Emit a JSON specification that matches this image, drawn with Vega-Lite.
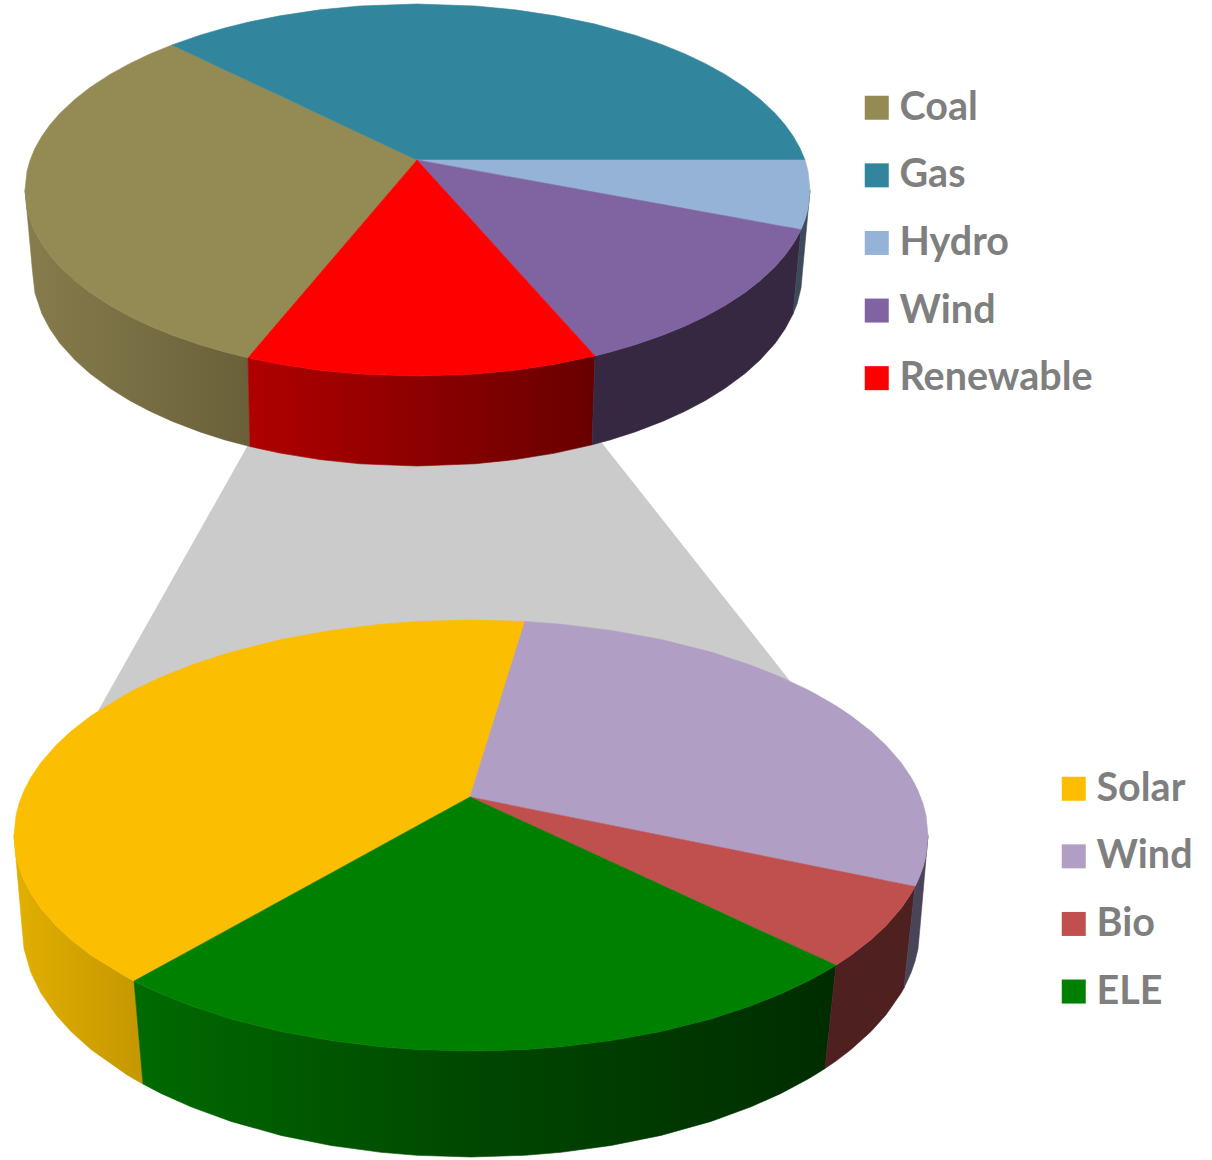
{
  "$schema": "https://vega.github.io/schema/vega-lite/v6.json",
  "width": 1212,
  "height": 1160,
  "padding": 0,
  "autosize": "none",
  "background": "white",
  "config": {"view": {"stroke": null}},
  "datasets": {
    "bridge": [
      {"slice":"Link","x":98,"top":711,"bottom":711},
      {"slice":"Link","x":248,"top":445,"bottom":705},
      {"slice":"Link","x":602,"top":443,"bottom":690},
      {"slice":"Link","x":790,"top":681,"bottom":681}
    ],
    "energyFaces": [
      {"slice":"Coal","x":25,"top":190,"bottom":190},{"slice":"Coal","x":27,"top":171.2,"bottom":208.8},{"slice":"Coal","x":30,"top":160.4,"bottom":219.6},{"slice":"Coal","x":35,"top":148.3,"bottom":231.7},{"slice":"Coal","x":42,"top":135.9,"bottom":244.1},{"slice":"Coal","x":50,"top":124.7,"bottom":255.3},{"slice":"Coal","x":60,"top":113.2,"bottom":266.8},{"slice":"Coal","x":75,"top":99.2,"bottom":280.8},{"slice":"Coal","x":90,"top":87.5,"bottom":292.5},{"slice":"Coal","x":110,"top":74.4,"bottom":305.6},{"slice":"Coal","x":130,"top":63.4,"bottom":316.6},{"slice":"Coal","x":150,"top":53.9,"bottom":326.1},{"slice":"Coal","x":172,"top":44.9,"bottom":335.1},{"slice":"Coal","x":200,"top":58.1,"bottom":344.8},{"slice":"Coal","x":225,"top":69.9,"bottom":352.1},{"slice":"Coal","x":248,"top":80.6,"bottom":357.8},{"slice":"Coal","x":417,"top":160,"bottom":160},
      {"slice":"Gas","x":172,"top":44.9,"bottom":44.9},{"slice":"Gas","x":200,"top":35.2,"bottom":58.1},{"slice":"Gas","x":225,"top":27.9,"bottom":69.9},{"slice":"Gas","x":248,"top":22.2,"bottom":80.6},{"slice":"Gas","x":280,"top":15.8,"bottom":95.6},{"slice":"Gas","x":320,"top":9.8,"bottom":114.4},{"slice":"Gas","x":360,"top":6,"bottom":133.2},{"slice":"Gas","x":417,"top":4,"bottom":160},{"slice":"Gas","x":475,"top":6,"bottom":160},{"slice":"Gas","x":515,"top":9.8,"bottom":160},{"slice":"Gas","x":555,"top":15.8,"bottom":160},{"slice":"Gas","x":595,"top":24.1,"bottom":160},{"slice":"Gas","x":635,"top":35.2,"bottom":160},{"slice":"Gas","x":663,"top":44.9,"bottom":160},{"slice":"Gas","x":685,"top":53.9,"bottom":160},{"slice":"Gas","x":705,"top":63.4,"bottom":160},{"slice":"Gas","x":725,"top":74.4,"bottom":160},{"slice":"Gas","x":745,"top":87.5,"bottom":160},{"slice":"Gas","x":760,"top":99.2,"bottom":160},{"slice":"Gas","x":775,"top":113.2,"bottom":160},{"slice":"Gas","x":785,"top":124.7,"bottom":160},{"slice":"Gas","x":793,"top":135.9,"bottom":160},{"slice":"Gas","x":800,"top":148.3,"bottom":160},{"slice":"Gas","x":805,"top":160,"bottom":160},
      {"slice":"Hydro","x":417,"top":160,"bottom":160},{"slice":"Hydro","x":801,"top":160,"bottom":229.6},{"slice":"Hydro","x":805,"top":160,"bottom":219.6},{"slice":"Hydro","x":808,"top":171.2,"bottom":208.8},{"slice":"Hydro","x":810,"top":190,"bottom":190},
      {"slice":"Wind","x":417,"top":160,"bottom":160},{"slice":"Wind","x":595,"top":192.3,"bottom":355.9},{"slice":"Wind","x":610,"top":195,"bottom":352.1},{"slice":"Wind","x":635,"top":199.5,"bottom":344.8},{"slice":"Wind","x":663,"top":204.6,"bottom":335.1},{"slice":"Wind","x":685,"top":208.6,"bottom":326.1},{"slice":"Wind","x":705,"top":212.2,"bottom":316.6},{"slice":"Wind","x":725,"top":215.8,"bottom":305.6},{"slice":"Wind","x":745,"top":219.4,"bottom":292.5},{"slice":"Wind","x":760,"top":222.2,"bottom":280.8},{"slice":"Wind","x":775,"top":224.9,"bottom":266.8},{"slice":"Wind","x":785,"top":226.7,"bottom":255.3},{"slice":"Wind","x":793,"top":228.1,"bottom":244.1},{"slice":"Wind","x":800,"top":229.4,"bottom":231.7},{"slice":"Wind","x":801,"top":229.6,"bottom":229.6},
      {"slice":"Renewable","x":248,"top":357.8,"bottom":357.8},{"slice":"Renewable","x":280,"top":320.3,"bottom":364.2},{"slice":"Renewable","x":320,"top":273.5,"bottom":370.2},{"slice":"Renewable","x":360,"top":226.7,"bottom":374},{"slice":"Renewable","x":417,"top":160,"bottom":376},{"slice":"Renewable","x":475,"top":223.8,"bottom":374},{"slice":"Renewable","x":515,"top":267.9,"bottom":370.2},{"slice":"Renewable","x":555,"top":311.9,"bottom":364.2},{"slice":"Renewable","x":595,"top":355.9,"bottom":355.9}
    ],
    "energyWalls": [
      {"slice":"Coal","x":25,"top":190,"bottom":190},{"slice":"Coal","x":27,"top":208.8,"bottom":211.6},{"slice":"Coal","x":30,"top":219.6,"bottom":244},{"slice":"Coal","x":32.5,"top":226,"bottom":271},{"slice":"Coal","x":35,"top":231.7,"bottom":293.2},{"slice":"Coal","x":42,"top":244.1,"bottom":314},{"slice":"Coal","x":50,"top":255.3,"bottom":329},{"slice":"Coal","x":60,"top":266.8,"bottom":343.4},{"slice":"Coal","x":75,"top":280.8,"bottom":360},{"slice":"Coal","x":90,"top":292.5,"bottom":373.5},{"slice":"Coal","x":110,"top":305.6,"bottom":388.3},{"slice":"Coal","x":130,"top":316.6,"bottom":400.7},{"slice":"Coal","x":150,"top":326.1,"bottom":411.2},{"slice":"Coal","x":172,"top":335.1,"bottom":421.2},{"slice":"Coal","x":200,"top":344.8,"bottom":431.9},{"slice":"Coal","x":225,"top":352.1,"bottom":439.9},{"slice":"Coal","x":248,"top":357.8,"bottom":446},{"slice":"Coal","x":250,"top":446.5,"bottom":446.5},
      {"slice":"Renewable","x":248,"top":357.8,"bottom":357.8},{"slice":"Renewable","x":250,"top":358.3,"bottom":446.5},{"slice":"Renewable","x":280,"top":364.2,"bottom":453.1},{"slice":"Renewable","x":320,"top":370.2,"bottom":459.6},{"slice":"Renewable","x":360,"top":374,"bottom":463.8},{"slice":"Renewable","x":417,"top":376,"bottom":466},{"slice":"Renewable","x":475,"top":374,"bottom":463.8},{"slice":"Renewable","x":515,"top":370.2,"bottom":459.6},{"slice":"Renewable","x":555,"top":364.2,"bottom":453.1},{"slice":"Renewable","x":592,"top":356.6,"bottom":444.8},{"slice":"Renewable","x":595,"top":355.9,"bottom":355.9},
      {"slice":"Wind","x":592,"top":444.8,"bottom":444.8},{"slice":"Wind","x":595,"top":355.9,"bottom":444},{"slice":"Wind","x":610,"top":352.1,"bottom":439.9},{"slice":"Wind","x":635,"top":344.8,"bottom":431.9},{"slice":"Wind","x":663,"top":335.1,"bottom":421.2},{"slice":"Wind","x":685,"top":326.1,"bottom":411.2},{"slice":"Wind","x":705,"top":316.6,"bottom":400.7},{"slice":"Wind","x":725,"top":305.6,"bottom":388.3},{"slice":"Wind","x":745,"top":292.5,"bottom":373.5},{"slice":"Wind","x":760,"top":280.8,"bottom":360},{"slice":"Wind","x":775,"top":266.8,"bottom":343.4},{"slice":"Wind","x":785,"top":255.3,"bottom":329},{"slice":"Wind","x":793,"top":244.1,"bottom":314},{"slice":"Wind","x":797,"top":237.5,"bottom":271.8},{"slice":"Wind","x":800,"top":231.7,"bottom":240.1},{"slice":"Wind","x":801,"top":229.6,"bottom":229.6},
      {"slice":"Hydro","x":793,"top":314,"bottom":314},{"slice":"Hydro","x":797,"top":271.8,"bottom":304},{"slice":"Hydro","x":801,"top":229.6,"bottom":288},{"slice":"Hydro","x":802.5,"top":226,"bottom":271},{"slice":"Hydro","x":805,"top":219.6,"bottom":244},{"slice":"Hydro","x":808,"top":208.8,"bottom":211.6},{"slice":"Hydro","x":810,"top":190,"bottom":190}
    ],
    "renewableFaces": [
      {"slice":"Solar","x":14,"top":835.5,"bottom":835.5},{"slice":"Solar","x":16,"top":815.4,"bottom":855.6},{"slice":"Solar","x":19,"top":803.7,"bottom":867.3},{"slice":"Solar","x":24,"top":790.7,"bottom":880.3},{"slice":"Solar","x":31,"top":777.3,"bottom":893.7},{"slice":"Solar","x":41,"top":762.5,"bottom":908.5},{"slice":"Solar","x":56,"top":745.3,"bottom":925.7},{"slice":"Solar","x":71,"top":731.3,"bottom":939.7},{"slice":"Solar","x":91,"top":715.8,"bottom":955.2},{"slice":"Solar","x":126,"top":694.2,"bottom":976.8},{"slice":"Solar","x":134,"top":689.9,"bottom":981.1},{"slice":"Solar","x":161,"top":677.2,"bottom":966.3},{"slice":"Solar","x":191,"top":665.2,"bottom":949.9},{"slice":"Solar","x":231,"top":652.1,"bottom":928},{"slice":"Solar","x":281,"top":639.5,"bottom":900.6},{"slice":"Solar","x":331,"top":630.4,"bottom":873.2},{"slice":"Solar","x":381,"top":624.2,"bottom":845.8},{"slice":"Solar","x":417,"top":621.5,"bottom":826},{"slice":"Solar","x":470,"top":620,"bottom":797},{"slice":"Solar","x":525,"top":621.5,"bottom":621.5},
      {"slice":"Wind","x":470,"top":797,"bottom":797},{"slice":"Wind","x":525,"top":621.5,"bottom":808.1},{"slice":"Wind","x":561,"top":624.2,"bottom":815.3},{"slice":"Wind","x":611,"top":630.4,"bottom":825.4},{"slice":"Wind","x":661,"top":639.5,"bottom":835.4},{"slice":"Wind","x":711,"top":652.1,"bottom":845.5},{"slice":"Wind","x":751,"top":665.2,"bottom":853.5},{"slice":"Wind","x":781,"top":677.2,"bottom":859.5},{"slice":"Wind","x":808,"top":689.9,"bottom":865},{"slice":"Wind","x":816,"top":694.2,"bottom":866.6},{"slice":"Wind","x":836,"top":705.8,"bottom":870.6},{"slice":"Wind","x":851,"top":715.8,"bottom":873.6},{"slice":"Wind","x":871,"top":731.3,"bottom":877.6},{"slice":"Wind","x":886,"top":745.3,"bottom":880.7},{"slice":"Wind","x":901,"top":762.5,"bottom":883.7},{"slice":"Wind","x":911,"top":777.3,"bottom":885.7},{"slice":"Wind","x":915,"top":784.5,"bottom":886.5},{"slice":"Wind","x":918,"top":790.7,"bottom":880.3},{"slice":"Wind","x":923,"top":803.7,"bottom":867.3},{"slice":"Wind","x":926,"top":815.4,"bottom":855.6},{"slice":"Wind","x":928,"top":835.5,"bottom":835.5},
      {"slice":"Bio","x":470,"top":797,"bottom":797},{"slice":"Bio","x":836,"top":870.6,"bottom":965.2},{"slice":"Bio","x":851,"top":873.6,"bottom":955.2},{"slice":"Bio","x":871,"top":877.6,"bottom":939.7},{"slice":"Bio","x":886,"top":880.7,"bottom":925.7},{"slice":"Bio","x":901,"top":883.7,"bottom":908.5},{"slice":"Bio","x":911,"top":885.7,"bottom":893.7},{"slice":"Bio","x":915,"top":886.5,"bottom":886.5},
      {"slice":"ELE","x":134,"top":981.1,"bottom":981.1},{"slice":"ELE","x":161,"top":966.3,"bottom":993.8},{"slice":"ELE","x":191,"top":949.9,"bottom":1005.8},{"slice":"ELE","x":231,"top":928,"bottom":1018.9},{"slice":"ELE","x":281,"top":900.6,"bottom":1031.5},{"slice":"ELE","x":331,"top":873.2,"bottom":1040.6},{"slice":"ELE","x":381,"top":845.8,"bottom":1046.8},{"slice":"ELE","x":417,"top":826,"bottom":1049.5},{"slice":"ELE","x":470,"top":797,"bottom":1051},{"slice":"ELE","x":525,"top":822.3,"bottom":1049.5},{"slice":"ELE","x":561,"top":838.8,"bottom":1046.8},{"slice":"ELE","x":611,"top":861.8,"bottom":1040.6},{"slice":"ELE","x":661,"top":884.8,"bottom":1031.5},{"slice":"ELE","x":711,"top":907.8,"bottom":1018.9},{"slice":"ELE","x":751,"top":926.2,"bottom":1005.8},{"slice":"ELE","x":781,"top":940,"bottom":993.8},{"slice":"ELE","x":808,"top":952.4,"bottom":981.1},{"slice":"ELE","x":816,"top":956.1,"bottom":976.8},{"slice":"ELE","x":836,"top":965.2,"bottom":965.2}
    ],
    "renewableWalls": [
      {"slice":"Solar","x":14,"top":835.5,"bottom":835.5},{"slice":"Solar","x":16,"top":855.6,"bottom":858.4},{"slice":"Solar","x":19,"top":867.3,"bottom":892.8},{"slice":"Solar","x":22,"top":875.6,"bottom":927},{"slice":"Solar","x":24,"top":880.3,"bottom":948.7},{"slice":"Solar","x":31,"top":893.7,"bottom":972.8},{"slice":"Solar","x":41,"top":908.5,"bottom":993.2},{"slice":"Solar","x":56,"top":925.7,"bottom":1014.8},{"slice":"Solar","x":71,"top":939.7,"bottom":1031.5},{"slice":"Solar","x":91,"top":955.2,"bottom":1049.5},{"slice":"Solar","x":126,"top":976.8,"bottom":1074.2},{"slice":"Solar","x":134,"top":981.1,"bottom":1079},{"slice":"Solar","x":143,"top":1084,"bottom":1084},
      {"slice":"ELE","x":134,"top":981.1,"bottom":981.1},{"slice":"ELE","x":143,"top":985.5,"bottom":1084},{"slice":"ELE","x":161,"top":993.8,"bottom":1093.4},{"slice":"ELE","x":191,"top":1005.8,"bottom":1106.8},{"slice":"ELE","x":231,"top":1018.9,"bottom":1121.4},{"slice":"ELE","x":281,"top":1031.5,"bottom":1135.4},{"slice":"ELE","x":331,"top":1040.6,"bottom":1145.5},{"slice":"ELE","x":381,"top":1046.8,"bottom":1152.3},{"slice":"ELE","x":417,"top":1049.5,"bottom":1155.3},{"slice":"ELE","x":471,"top":1051,"bottom":1157},{"slice":"ELE","x":525,"top":1049.5,"bottom":1155.3},{"slice":"ELE","x":561,"top":1046.8,"bottom":1152.3},{"slice":"ELE","x":611,"top":1040.6,"bottom":1145.5},{"slice":"ELE","x":661,"top":1031.5,"bottom":1135.4},{"slice":"ELE","x":711,"top":1018.9,"bottom":1121.4},{"slice":"ELE","x":751,"top":1005.8,"bottom":1106.8},{"slice":"ELE","x":781,"top":993.8,"bottom":1093.4},{"slice":"ELE","x":808,"top":981.1,"bottom":1079},{"slice":"ELE","x":816,"top":976.8,"bottom":1074.2},{"slice":"ELE","x":825,"top":971.8,"bottom":1068.5},{"slice":"ELE","x":836,"top":965.2,"bottom":965.2},
      {"slice":"Bio","x":825,"top":1068.5,"bottom":1068.5},{"slice":"Bio","x":836,"top":965.2,"bottom":1061},{"slice":"Bio","x":851,"top":955.2,"bottom":1049.5},{"slice":"Bio","x":871,"top":939.7,"bottom":1031.5},{"slice":"Bio","x":886,"top":925.7,"bottom":1014.8},{"slice":"Bio","x":901,"top":908.5,"bottom":993.2},{"slice":"Bio","x":904,"top":904.4,"bottom":987.9},{"slice":"Bio","x":911,"top":893.7,"bottom":923.4},{"slice":"Bio","x":915,"top":886.5,"bottom":886.5},
      {"slice":"Wind","x":904,"top":987.9,"bottom":987.9},{"slice":"Wind","x":911,"top":923.4,"bottom":972.8},{"slice":"Wind","x":915,"top":886.5,"bottom":961.2},{"slice":"Wind","x":918,"top":880.3,"bottom":948.7},{"slice":"Wind","x":920,"top":875.4,"bottom":927},{"slice":"Wind","x":923,"top":867.3,"bottom":892.7},{"slice":"Wind","x":926,"top":855.6,"bottom":858.4},{"slice":"Wind","x":928,"top":835.5,"bottom":835.5}
    ]
  },
  "encoding": {
    "x": {"field": "x", "type": "quantitative", "scale": {"domain": [0, 1212], "nice": false, "zero": false}, "axis": null},
    "y": {"field": "top", "type": "quantitative", "scale": {"domain": [1160, 0], "nice": false, "zero": false}, "axis": null},
    "y2": {"field": "bottom"}
  },
  "layer": [
    {"data": {"name": "bridge"}, "mark": {"type": "area", "fill": "#cbcbcb", "orient": "vertical"}},
    {"data": {"name": "renewableWalls"}, "transform": [{"filter": "datum.slice === 'Solar'"}],
      "mark": {"type": "area", "orient": "vertical", "strokeWidth": 0.6,
        "fill": {"gradient": "linear", "x1": 0, "x2": 1, "y1": 0, "y2": 0, "stops": [{"offset": 0, "color": "#e2af00"}, {"offset": 1, "color": "#c59700"}]},
        "stroke": {"gradient": "linear", "x1": 0, "x2": 1, "y1": 0, "y2": 0, "stops": [{"offset": 0, "color": "#e2af00"}, {"offset": 1, "color": "#c59700"}]}}},
    {"data": {"name": "renewableWalls"}, "transform": [{"filter": "datum.slice === 'ELE'"}],
      "mark": {"type": "area", "orient": "vertical", "strokeWidth": 0.6,
        "fill": {"gradient": "linear", "x1": 0, "x2": 1, "y1": 0, "y2": 0, "stops": [{"offset": 0, "color": "#006a00"}, {"offset": 0.5, "color": "#004600"}, {"offset": 1, "color": "#002c00"}]},
        "stroke": {"gradient": "linear", "x1": 0, "x2": 1, "y1": 0, "y2": 0, "stops": [{"offset": 0, "color": "#006a00"}, {"offset": 0.5, "color": "#004600"}, {"offset": 1, "color": "#002c00"}]}}},
    {"data": {"name": "renewableWalls"}, "transform": [{"filter": "datum.slice === 'Bio'"}],
      "mark": {"type": "area", "orient": "vertical", "fill": "#4e2020", "stroke": "#4e2020", "strokeWidth": 0.6}},
    {"data": {"name": "renewableWalls"}, "transform": [{"filter": "datum.slice === 'Wind'"}],
      "mark": {"type": "area", "orient": "vertical", "fill": "#4a4458", "stroke": "#4a4458", "strokeWidth": 0.6}},
    {"data": {"name": "renewableFaces"},
      "mark": {"type": "area", "orient": "vertical", "strokeWidth": 0.6},
      "encoding": {
        "stroke": {"field": "slice", "type": "nominal", "legend": null,
          "scale": {"domain": ["Solar", "Wind", "Bio", "ELE"], "range": ["#fcbe00", "#b09ec4", "#c0504d", "#008000"]}},
        "fill": {"field": "slice", "type": "nominal",
        "scale": {"domain": ["Solar", "Wind", "Bio", "ELE"], "range": ["#fcbe00", "#b09ec4", "#c0504d", "#008000"]},
        "legend": {"title": null, "orient": "none", "legendX": 1054, "legendY": 769, "symbolType": "square", "symbolSize": 576, "symbolStrokeWidth": 0, "symbolStrokeColor": "transparent", "symbolOpacity": 1, "labelFont": "Lato", "labelFontWeight": "bold", "labelFontSize": 39.5, "labelColor": "#7f7f7f", "labelOffset": 3, "rowPadding": 26.6, "padding": 0, "offset": 0, "labelLimit": 400}}}},
    {"data": {"name": "energyWalls"}, "transform": [{"filter": "datum.slice === 'Coal'"}],
      "mark": {"type": "area", "orient": "vertical", "strokeWidth": 0.6,
        "fill": {"gradient": "linear", "x1": 0, "x2": 1, "y1": 0, "y2": 0, "stops": [{"offset": 0, "color": "#867c4c"}, {"offset": 1, "color": "#69603a"}]},
        "stroke": {"gradient": "linear", "x1": 0, "x2": 1, "y1": 0, "y2": 0, "stops": [{"offset": 0, "color": "#867c4c"}, {"offset": 1, "color": "#69603a"}]}}},
    {"data": {"name": "energyWalls"}, "transform": [{"filter": "datum.slice === 'Renewable'"}],
      "mark": {"type": "area", "orient": "vertical", "strokeWidth": 0.6,
        "fill": {"gradient": "linear", "x1": 0, "x2": 1, "y1": 0, "y2": 0, "stops": [{"offset": 0, "color": "#b00000"}, {"offset": 1, "color": "#680000"}]},
        "stroke": {"gradient": "linear", "x1": 0, "x2": 1, "y1": 0, "y2": 0, "stops": [{"offset": 0, "color": "#b00000"}, {"offset": 1, "color": "#680000"}]}}},
    {"data": {"name": "energyWalls"}, "transform": [{"filter": "datum.slice === 'Wind'"}],
      "mark": {"type": "area", "orient": "vertical", "fill": "#352840", "stroke": "#352840", "strokeWidth": 0.6}},
    {"data": {"name": "energyWalls"}, "transform": [{"filter": "datum.slice === 'Hydro'"}],
      "mark": {"type": "area", "orient": "vertical", "fill": "#3c4a5c", "stroke": "#3c4a5c", "strokeWidth": 0.6}},
    {"data": {"name": "energyFaces"},
      "mark": {"type": "area", "orient": "vertical", "strokeWidth": 0.6},
      "encoding": {
        "stroke": {"field": "slice", "type": "nominal", "legend": null,
          "scale": {"domain": ["Coal", "Gas", "Hydro", "Wind", "Renewable"], "range": ["#948a54", "#31859c", "#95b3d7", "#8064a2", "#ff0000"]}},
        "fill": {"field": "slice", "type": "nominal",
        "scale": {"domain": ["Coal", "Gas", "Hydro", "Wind", "Renewable"], "range": ["#948a54", "#31859c", "#95b3d7", "#8064a2", "#ff0000"]},
        "legend": {"title": null, "orient": "none", "legendX": 857, "legendY": 88, "symbolType": "square", "symbolSize": 576, "symbolStrokeWidth": 0, "symbolStrokeColor": "transparent", "symbolOpacity": 1, "labelFont": "Lato", "labelFontWeight": "bold", "labelFontSize": 39.5, "labelColor": "#7f7f7f", "labelOffset": 3, "rowPadding": 26.6, "padding": 0, "offset": 0, "labelLimit": 400}}}}
  ],
  "resolve": {"scale": {"fill": "independent", "stroke": "independent"}}
}
